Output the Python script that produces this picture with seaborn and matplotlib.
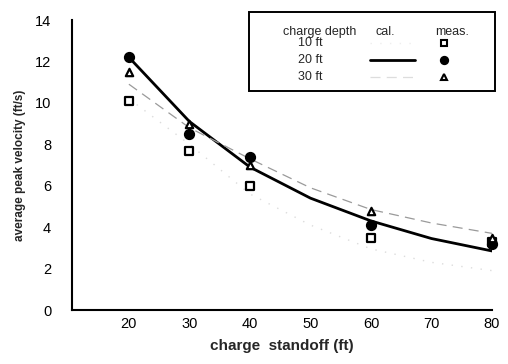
import matplotlib
matplotlib.use("Agg")
import matplotlib.pyplot as plt
from matplotlib.patches import Rectangle
from matplotlib.lines import Line2D
import numpy as np
import pandas as pd
import seaborn as sns

# measured points (charge standoff in ft -> average peak velocity in ft/s)
meas_x = [20, 30, 40, 60, 80]
meas_10ft = [10.1, 7.7, 6.0, 3.5, 3.3]
meas_20ft = [12.2, 8.5, 7.4, 4.1, 3.2]
meas_30ft = [11.5, 9.0, 7.0, 4.8, 3.5]

# calculated curves
cal_x = [20, 30, 40, 50, 60, 70, 80]
cal_10ft = [10.2, 8.0, 5.6, 4.1, 2.95, 2.3, 1.9]
cal_20ft = [12.2, 9.1, 6.9, 5.4, 4.3, 3.45, 2.85]
cal_30ft = [10.9, 8.8, 7.3, 5.9, 4.85, 4.2, 3.7]

depths = ["10 ft", "20 ft", "30 ft"]
x_ticks = [20, 30, 40, 50, 60, 70, 80]
y_ticks = [0, 2, 4, 6, 8, 10, 12, 14]

meas = pd.DataFrame({
    "standoff": meas_x * 3,
    "velocity": meas_10ft + meas_20ft + meas_30ft,
    "depth": [d for d in depths for _ in meas_x],
})
cal = pd.DataFrame({
    "standoff": cal_x * 3,
    "velocity": cal_10ft + cal_20ft + cal_30ft,
    "depth": [d for d in depths for _ in cal_x],
})

sns.set_style("white")
plt.rcParams["font.family"] = ["Liberation Sans", "DejaVu Sans"]

W, H = 508, 364
fig = plt.figure(figsize=(W / 100, H / 100), dpi=100)
ax = fig.add_axes([72 / W, 1 - 310 / H, (492 - 72) / W, (310 - 20) / H])

line_colors = {"10 ft": "#dcdcdc", "20 ft": "black", "30 ft": "#9a9a9a"}
line_widths = {"10 ft": 1.0, "20 ft": 2.0, "30 ft": 0.9}
line_styles = {"10 ft": (0, (1, 6)), "20 ft": "-", "30 ft": (0, (8, 5))}

for d in depths:
    sub = cal[cal["depth"] == d]
    sns.lineplot(data=sub, x="standoff", y="velocity", ax=ax,
                 color=line_colors[d], lw=line_widths[d],
                 linestyle=line_styles[d], legend=False)

mk = {"10 ft": "s", "20 ft": "o", "30 ft": "^"}
face = {"10 ft": "white", "20 ft": "black", "30 ft": "white"}
size = {"10 ft": 30, "20 ft": 42, "30 ft": 28}
for d in depths:
    sub = meas[meas["depth"] == d]
    sns.scatterplot(data=sub, x="standoff", y="velocity", ax=ax,
                    marker=mk[d], s=size[d], facecolor=face[d],
                    edgecolor="black", linewidth=1.6, clip_on=False,
                    zorder=5, legend=False)

ax.set_xlim(10.6, 80)
ax.set_ylim(0, 14)
ax.set_xticks(x_ticks)
ax.set_yticks(y_ticks)
ax.tick_params(direction="in", length=3, width=1.2, labelsize=10.5,
               colors="black")
ax.tick_params(axis="y", pad=15)
ax.tick_params(axis="x", pad=5)
for s in ["top", "right"]:
    ax.spines[s].set_visible(False)
for s in ["left", "bottom"]:
    ax.spines[s].set_linewidth(1.5)
    ax.spines[s].set_color("black")

ax.set_xlabel("charge  standoff (ft)", fontsize=11, fontweight="bold",
              labelpad=6)
ax.set_ylabel("average peak velocity (ft/s)", fontsize=8.5,
              fontweight="bold", labelpad=6)


# hand-made legend table in figure pixels
def fx(px):
    return px / W


def fy(py):
    return 1 - py / H


fig.add_artist(Rectangle((fx(249), fy(91)), fx(495) - fx(249),
                         (91 - 12) / H, fill=False, lw=1.4,
                         edgecolor="black", transform=fig.transFigure))
fs = 9
fig.text(fx(320), fy(32), "charge depth", ha="center", va="center",
         fontsize=fs)
fig.text(fx(385), fy(32), "cal.", ha="center", va="center", fontsize=fs)
fig.text(fx(452), fy(32), "meas.", ha="center", va="center", fontsize=fs)
row_y = [43, 60, 77]
leg_colors = {"10 ft": "#eeeeee", "20 ft": "black", "30 ft": "#dddddd"}
for d, ry in zip(depths, row_y):
    fig.text(fx(298), fy(ry), d, ha="left", va="center", fontsize=fs)
    fig.add_artist(Line2D([fx(370), fx(415)], [fy(ry), fy(ry)],
                          color=leg_colors[d], lw=line_widths[d],
                          linestyle=line_styles[d],
                          transform=fig.transFigure))
    fig.add_artist(Line2D([fx(444)], [fy(ry)], marker=mk[d],
                          markersize=np.sqrt(size[d]) * 0.8,
                          markerfacecolor=face[d], markeredgecolor="black",
                          markeredgewidth=1.5, linestyle="none",
                          transform=fig.transFigure))

fig.savefig("out.png", dpi=100)
